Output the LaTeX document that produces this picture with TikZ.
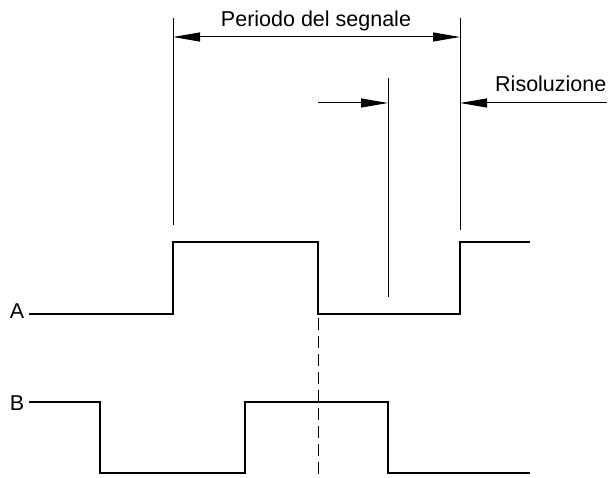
\documentclass[tikz,border=0pt]{standalone}
\usepackage{fontspec}
\setmainfont{Liberation Sans}
\usetikzlibrary{arrows.meta}
\tikzset{
  signal/.style={line width=2.7pt,line join=miter,line cap=butt},
  guide/.style={line width=1pt},
  dimarrow/.style={line width=1pt,-{Triangle[length=27pt,width=9pt]}},
  lbl/.style={inner sep=0pt,font=\fontsize{21.5}{25}\selectfont}
}
\begin{document}
\begin{tikzpicture}[x=1pt,y=1pt]
  \useasboundingbox (0,0) rectangle (608,477);
  % signal A
  \coordinate (A0) at (29,163);
  \coordinate (A1) at (173,163);
  \coordinate (A2) at (173,235);
  \coordinate (A3) at (318,235);
  \coordinate (A4) at (318,163);
  \coordinate (A5) at (460,163);
  \coordinate (A6) at (460,235);
  \coordinate (A7) at (530,235);
  \draw[signal] (A0) -- (A1) -- (A2) -- (A3) -- (A4) -- (A5) -- (A6) -- (A7);
  % signal B
  \coordinate (B0) at (29,75);
  \coordinate (B1) at (100,75);
  \coordinate (B2) at (100,4);
  \coordinate (B3) at (245,4);
  \coordinate (B4) at (245,75);
  \coordinate (B5) at (388,75);
  \coordinate (B6) at (388,4);
  \coordinate (B7) at (530,4);
  \draw[signal] (B0) -- (B1) -- (B2) -- (B3) -- (B4) -- (B5) -- (B6) -- (B7);
  \node[lbl,anchor=east] (la) at (24.5,166) {A};
  \node[lbl,anchor=east] (lb) at (24.5,74) {B};
  % guides
  \coordinate (P1) at (173,459);
  \coordinate (P2) at (460,459);
  \draw[guide] (P1) -- (173,252);
  \draw[guide] (P2) -- (460,247);
  \draw[guide] (388,399) -- (388,180);
  \draw[guide,dash pattern=on 12pt off 6pt] (318,159) -- (318,0);
  % period
  \coordinate (PL) at (173,440);
  \coordinate (PR) at (460,440);
  \coordinate (PM) at (317,440);
  \draw[dimarrow] (PM) -- (PL);
  \draw[dimarrow] (PM) -- (PR);
  \node[lbl,anchor=base] (period) at (316,450) {Periodo del segnale};
  % resolution
  \coordinate (R0) at (318,374);
  \coordinate (R1) at (388,374);
  \coordinate (R2) at (607,374);
  \coordinate (R3) at (460,374);
  \draw[dimarrow] (R0) -- (R1);
  \draw[dimarrow] (R2) -- (R3);
  \node[lbl,anchor=base west] (res) at (495,385) {Risoluzione};
\end{tikzpicture}
\end{document}
